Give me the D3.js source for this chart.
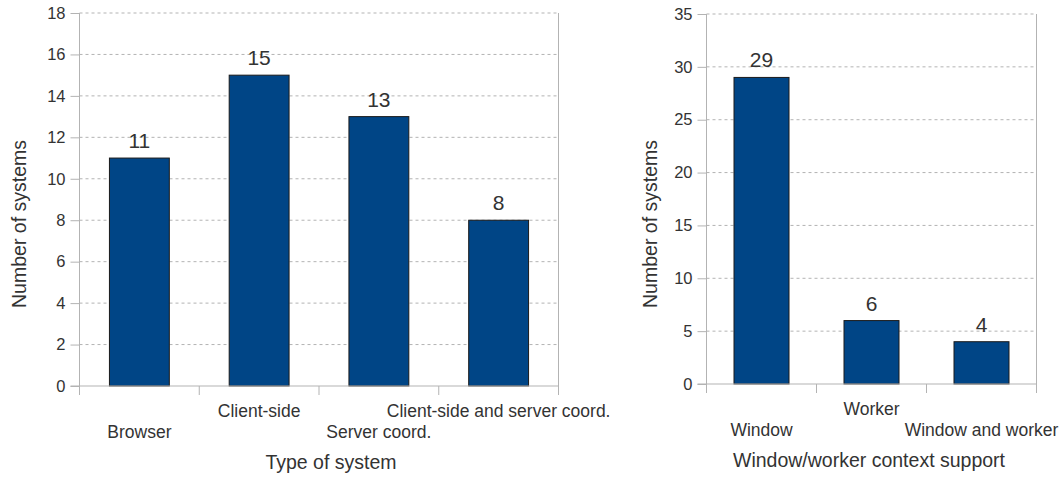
<!DOCTYPE html>
<html>
<head>
<meta charset="utf-8">
<script src="https://cdn.jsdelivr.net/npm/d3@7"></script>
<style>
  body { margin: 0; background: #fff; }
  text { font-family: "Liberation Sans", Arial, sans-serif; fill: #333; }
</style>
</head>
<body>
<svg id="chart" width="1064" height="477"></svg>
<script>
// left chart: type of system
const typeCategories = ["Browser", "Client-side", "Server coord.", "Client-side and server coord."];
const typeValues = [11, 15, 13, 8];
const typeTicks = [0, 2, 4, 6, 8, 10, 12, 14, 16, 18];

// right chart: window/worker context
const contextCategories = ["Window", "Worker", "Window and worker"];
const contextValues = [29, 6, 4];
const contextTicks = [0, 5, 10, 15, 20, 25, 30, 35];

const svg = d3.select("#chart");

function drawChart(opts) {
    let x = d3.scaleBand()
        .domain(opts.categories)
        .range([opts.left, opts.right])
        .paddingInner(0.5)
        .paddingOuter(0.25);

    let y = d3.scaleLinear()
        .domain([0, opts.max])
        .range([opts.bottom, opts.top]);

    let g = svg.append("g");

    // dashed grid
    g.selectAll("line.grid").data(opts.ticks.filter(t => t > 0))
        .enter().append("line")
        .attr("x1", opts.left).attr("x2", opts.right)
        .attr("y1", d => y(d)).attr("y2", d => y(d))
        .attr("stroke", "#b3b3b3")
        .attr("stroke-dasharray", "3,3");

    // right border
    g.append("line")
        .attr("x1", opts.right).attr("x2", opts.right)
        .attr("y1", opts.top).attr("y2", opts.bottom)
        .attr("stroke", "#b3b3b3");

    // bars
    g.selectAll("rect.bar").data(opts.values)
        .enter().append("rect")
        .attr("x", (d, i) => x(opts.categories[i]))
        .attr("width", x.bandwidth())
        .attr("y", d => y(d))
        .attr("height", d => y(0) - y(d))
        .attr("fill", "#004586")
        .attr("stroke", "#1a1a1a")
        .attr("stroke-width", 1);

    // value labels
    g.selectAll("text.val").data(opts.values)
        .enter().append("text")
        .attr("x", (d, i) => x(opts.categories[i]) + x.bandwidth() / 2)
        .attr("y", d => y(d) - 10)
        .attr("text-anchor", "middle")
        .attr("font-size", "21px")
        .text(d => d);

    // y axis
    let yAxis = g.append("g")
        .attr("transform", "translate(" + opts.left + ",0)")
        .call(d3.axisLeft(y).tickValues(opts.ticks).tickSize(9).tickPadding(5));
    yAxis.selectAll("line, path").attr("stroke", "#b3b3b3");
    yAxis.select(".domain").attr("d", "M0," + opts.top + "V" + opts.bottom);
    yAxis.selectAll("text").attr("font-size", "16.5px").attr("fill", "#333")
        .attr("font-family", "Liberation Sans, Arial, sans-serif");

    // x axis line and category separators
    g.append("line")
        .attr("x1", opts.left - 9).attr("x2", opts.right)
        .attr("y1", opts.bottom).attr("y2", opts.bottom)
        .attr("stroke", "#b3b3b3");
    const edges = opts.categories.map(c => x(c) - x.step() * 0.25).concat([opts.right]);
    g.selectAll("line.sep").data(edges)
        .enter().append("line")
        .attr("x1", d => d).attr("x2", d => d)
        .attr("y1", opts.bottom).attr("y2", opts.bottom + 9)
        .attr("stroke", "#b3b3b3");

    // staggered category labels
    g.selectAll("text.cat").data(opts.categories)
        .enter().append("text")
        .attr("x", d => x(d) + x.bandwidth() / 2)
        .attr("y", (d, i) => opts.bottom + (i % 2 === 0 ? 52 : 31))
        .attr("text-anchor", "middle")
        .attr("font-size", "17.5px")
        .text(d => d);

    // axis titles
    g.append("text")
        .attr("x", opts.xTitleX)
        .attr("y", opts.bottom + 83)
        .attr("text-anchor", "middle")
        .attr("font-size", "19.5px")
        .text(opts.xTitle);

    g.append("text")
        .attr("transform", "translate(" + opts.yTitleX + "," + opts.yTitleY + ") rotate(-90)")
        .attr("text-anchor", "middle")
        .attr("font-size", "19.5px")
        .text("Number of systems");
}

drawChart({
    categories: typeCategories, values: typeValues, ticks: typeTicks, max: 18,
    left: 79.5, right: 558.5, top: 13, bottom: 386,
    xTitle: "Type of system", xTitleX: 331, yTitleX: 26, yTitleY: 224
});

drawChart({
    categories: contextCategories, values: contextValues, ticks: contextTicks, max: 35,
    left: 706.5, right: 1036.5, top: 14, bottom: 384,
    xTitle: "Window/worker context support", xTitleX: 869, yTitleX: 657, yTitleY: 224
});
</script>
</body>
</html>
